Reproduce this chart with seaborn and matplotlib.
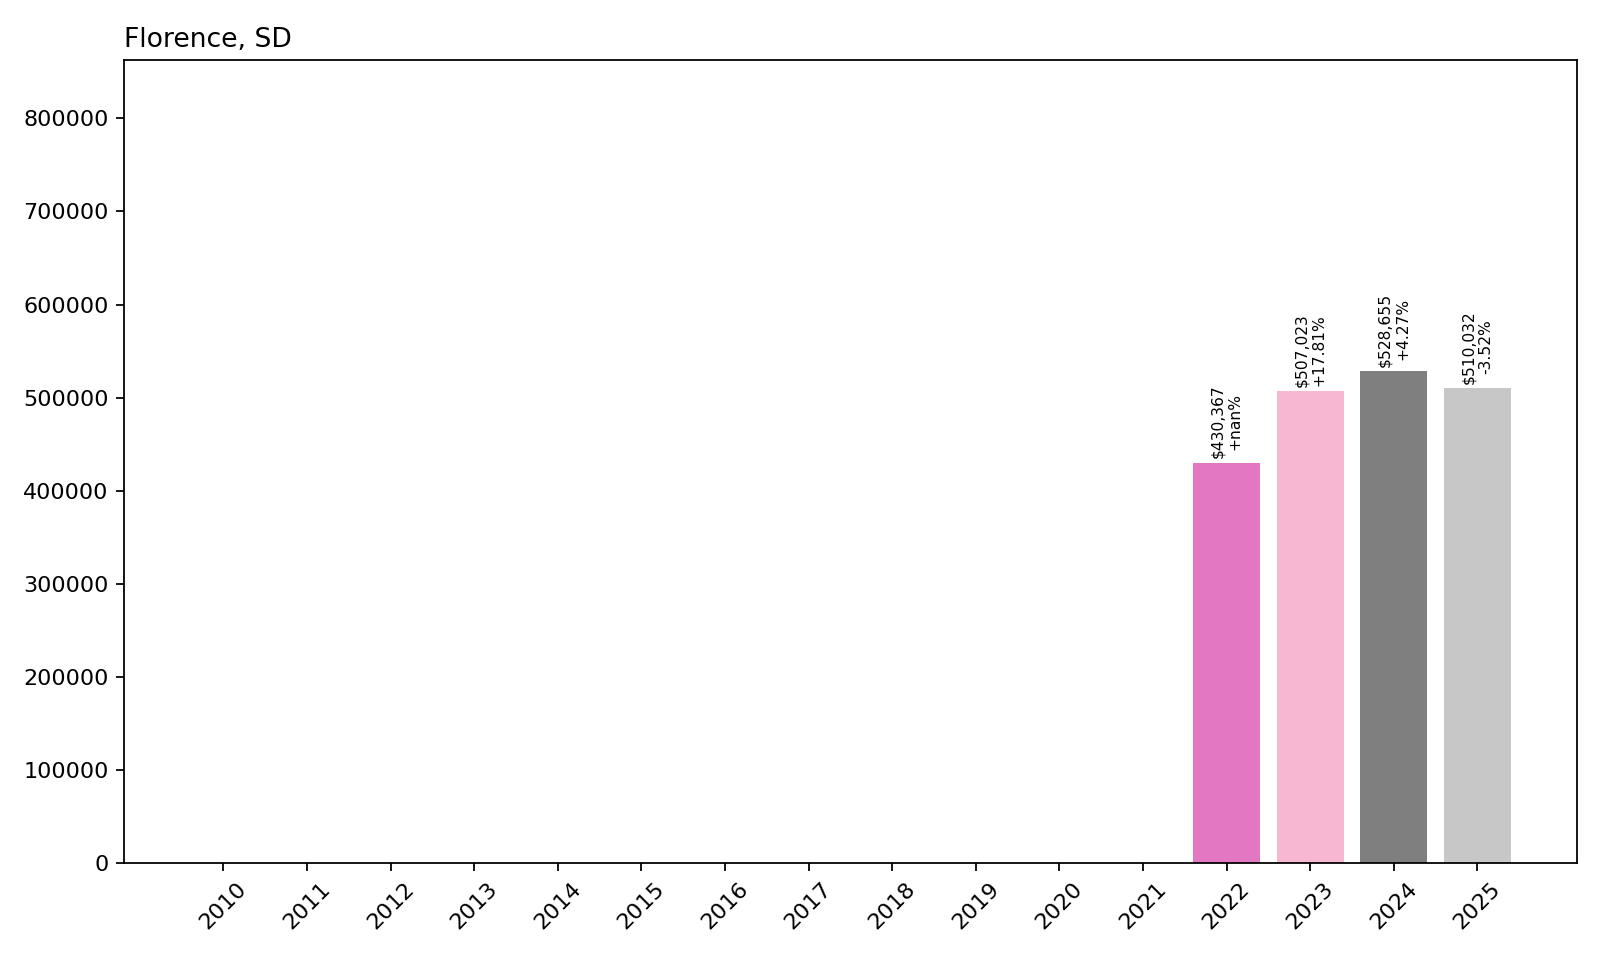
import numpy as np
import pandas as pd
import matplotlib
matplotlib.use("Agg")
import matplotlib.pyplot as plt
import seaborn as sns

# --- Data ---
TITLE = "Florence, SD"
years = [str(y) for y in range(2010, 2026)]
values = [np.nan] * 12 + [430367, 507023, 528655, 510032]

df = pd.DataFrame({"year": years, "value": values})
df["pct"] = df["value"].pct_change(fill_method=None) * 100

# --- Plot ---
fig = plt.figure(figsize=(10, 6), dpi=160)
ax = fig.add_axes([0.0775, 0.1007, 0.908, 0.8368])

palette = sns.color_palette("tab20", len(years))
sns.barplot(data=df, x="year", y="value", hue="year", order=years,
            hue_order=years, palette=palette, saturation=1, legend=False,
            linewidth=0, width=0.8, ax=ax)

for i, row in df.iterrows():
    if np.isnan(row["value"]):
        continue
    label = f"${row['value']:,.0f}\n{row['pct']:+.2f}%"
    ax.annotate(label, (i, row["value"]), xytext=(0, 2),
                textcoords="offset points", ha="center", va="bottom",
                rotation=90, fontsize=7)

ax.set_xlim(-1.19, 16.19)
ax.set_ylim(0, 862600)
ax.set_xlabel("")
ax.set_ylabel("")
ax.set_title(TITLE, loc="left")
ax.tick_params(axis="x", rotation=45)

fig.savefig("out.png", dpi=160)
